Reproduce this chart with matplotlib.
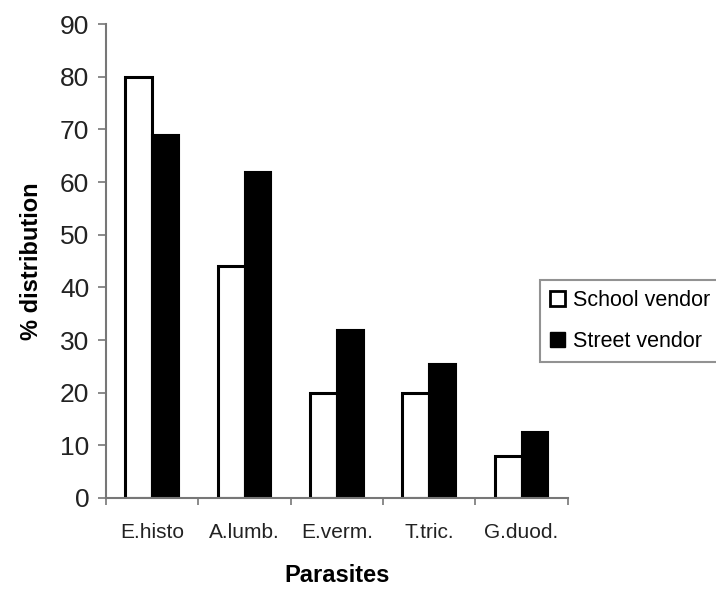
import numpy as np
import matplotlib.pyplot as plt
from matplotlib.patches import Patch

plt.rcParams['font.family'] = ['Liberation Sans', 'DejaVu Sans']

parasites = ['E.histo', 'A.lumb.', 'E.verm.', 'T.tric.', 'G.duod.']
school_vendor = [80, 44, 20, 20, 8]
street_vendor = [69, 62, 32, 25.5, 12.5]
y_ticks = np.arange(0, 100, 10)

fig = plt.figure(figsize=(7.16, 5.9), dpi=100)
ax = fig.add_axes([0.148, 0.156, 0.645, 0.803])

x = np.arange(len(parasites))
w = 0.29
ax.bar(x - w / 2, school_vendor, w, color='white', edgecolor='black', linewidth=2.2)
ax.bar(x + w / 2, street_vendor, w, color='black', edgecolor='black', linewidth=1.5)

ax.set_xlim(-0.5, len(parasites) - 0.5)
ax.set_ylim(0, 90)
ax.set_yticks(y_ticks)
ax.set_yticklabels([str(v) for v in y_ticks], fontsize=19, color='#222222')

# category labels sit in the middle, tick marks on the boundaries
ax.set_xticks(x)
ax.set_xticklabels(parasites, fontsize=15, color='#222222')
ax.tick_params(axis='x', length=0, pad=18)
ax.set_xticks(np.arange(-0.5, len(parasites)), minor=True)
ax.tick_params(axis='x', which='minor', length=5, width=1.2, color='#777777')
ax.tick_params(axis='y', length=6, width=1.2, color='#777777', pad=6)

for side in ['top', 'right']:
    ax.spines[side].set_visible(False)
for side in ['left', 'bottom']:
    ax.spines[side].set_color('#777777')
    ax.spines[side].set_linewidth(1.5)

ax.set_ylabel('% distribution', fontsize=17, fontweight='bold', labelpad=12)
ax.set_xlabel('Parasites', fontsize=17, fontweight='bold', labelpad=16)

handles = [Patch(facecolor='white', edgecolor='black', linewidth=2, label='School vendor'),
           Patch(facecolor='black', edgecolor='black', label='Street vendor')]
leg = fig.legend(handles=handles, loc='upper left', bbox_to_anchor=(540 / 716, 1 - 280 / 590),
                 borderaxespad=0, fontsize=15.5, frameon=True, fancybox=False,
                 handlelength=0.7, handleheight=0.7, handletextpad=0.4,
                 borderpad=0.45, labelspacing=0.95)
leg.get_frame().set_edgecolor('#777777')
leg.get_frame().set_linewidth(1.5)

fig.savefig('out.png', dpi=100)
